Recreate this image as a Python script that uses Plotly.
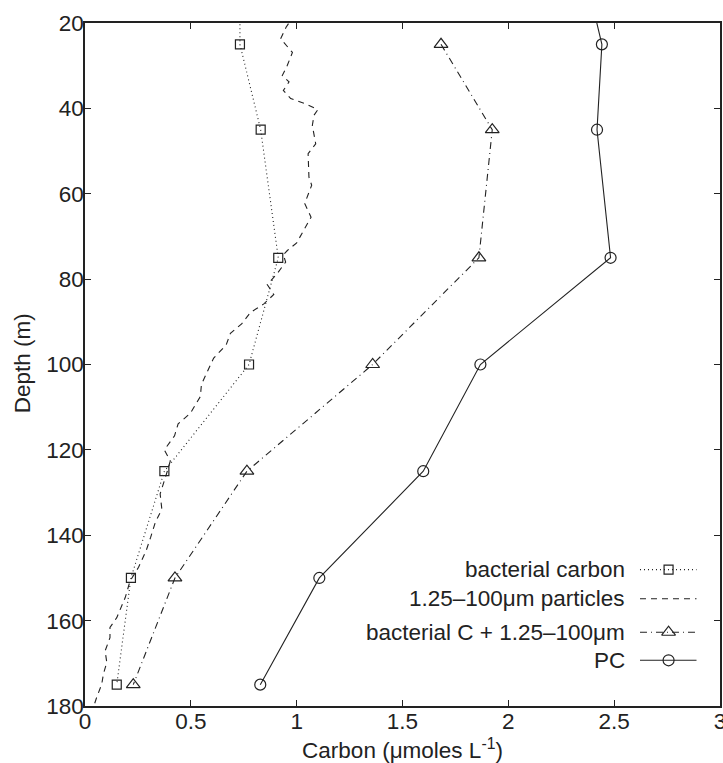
import plotly.graph_objects as go

# ---------------- data ----------------
depth_bact = [10, 25, 45, 75, 100, 125, 150, 175]
bact_carbon = [0.732, 0.732, 0.830, 0.913, 0.775, 0.375, 0.217, 0.150]

depth_sum = [25, 45, 75, 100, 125, 150, 175]
bact_plus_part = [1.682, 1.924, 1.861, 1.359, 0.765, 0.425, 0.228]

depth_pc = [10, 25, 45, 75, 100, 125, 150, 175]
pc = [2.37, 2.442, 2.419, 2.483, 1.868, 1.598, 1.107, 0.828]

depth_part = [18, 21, 23.7, 26.9, 29.9, 32.3, 33.8, 35.8, 37.7, 39.1, 40.3, 41.6, 44,
              48.3, 50.6, 56.1, 58, 62.3, 65.5, 68.8, 71.5, 73.3, 74.3, 76, 78.7,
              81.3, 83.6, 85.8, 87.8, 90.5, 92.7, 95.4, 98.5, 102.2, 104.7, 107.5,
              111.4, 113.9, 116.7, 120, 122.6, 125.3, 127.6, 130.3, 133.9, 137,
              140.5, 143.6, 147.5, 150.7, 154.6, 159.3, 161.6, 164, 167.1, 169.8,
              172.5, 174.9, 178, 181]
particles = [0.99, 0.95, 0.924, 0.98, 0.956, 0.932, 0.964, 0.937, 0.972, 1.05, 1.10,
             1.082, 1.074, 1.09, 1.054, 1.058, 1.071, 1.038, 1.068, 1.032, 1.0, 0.956,
             0.937, 0.948, 0.908, 0.861, 0.892, 0.845, 0.782, 0.74, 0.687, 0.667,
             0.608, 0.573, 0.55, 0.545, 0.498, 0.44, 0.423, 0.375, 0.403, 0.387,
             0.371, 0.355, 0.363, 0.332, 0.31, 0.289, 0.253, 0.213, 0.19, 0.15,
             0.118, 0.118, 0.095, 0.103, 0.087, 0.079, 0.055, 0.035]

legend_labels = ["bacterial carbon", "1.25\u2013100\u03bcm particles",
                 "bacterial C + 1.25\u2013100\u03bcm", "PC"]

x_ticks = [0, 0.5, 1, 1.5, 2, 2.5, 3]
x_tick_text = ["0", "0.5", "1", "1.5", "2", "2.5", "3"]
y_ticks = [20, 40, 60, 80, 100, 120, 140, 160, 180]

# ---------------- styles ----------------
FONT = "Liberation Sans, Arial, Helvetica, sans-serif"
BLACK = "#222222"
FS = 22.5
styles = [
    dict(dash="1px,3px", symbol="square-open", size=9),
    dict(dash="6px,5px", symbol=None, size=0),
    dict(dash="7px,4px,1px,4px", symbol="triangle-up-open", size=12),
    dict(dash="solid", symbol="circle-open", size=11),
]

series = [
    (bact_carbon, depth_bact),
    (particles, depth_part),
    (bact_plus_part, depth_sum),
    (pc, depth_pc),
]

fig = go.Figure()
for (xs, ys), st in zip(series, styles):
    mode = "lines+markers" if st["symbol"] else "lines"
    kw = dict(x=xs, y=ys, mode=mode, showlegend=False,
              line=dict(color=BLACK, width=1.1, dash=st["dash"]))
    if st["symbol"]:
        kw["marker"] = dict(symbol=st["symbol"], size=st["size"], color=BLACK,
                            line=dict(color=BLACK, width=1.2))
    fig.add_trace(go.Scatter(**kw))

# ---------------- manual legend (gnuplot style: text left, sample right) ----------------
row_y = [0.1997, 0.157, 0.108, 0.0669]
sample_x0, sample_xm, sample_x1 = 0.874, 0.919, 0.963
for lab, yy, st in zip(legend_labels, row_y, styles):
    fig.add_annotation(text=lab, xref="paper", yref="paper", x=0.853, y=yy,
                       xanchor="right", yanchor="middle", showarrow=False,
                       font=dict(family=FONT, size=FS, color=BLACK))
    fig.add_trace(go.Scatter(x=[sample_x0, sample_x1], y=[yy, yy], mode="lines",
                             xaxis="x2", yaxis="y2", showlegend=False, hoverinfo="skip",
                             line=dict(color=BLACK, width=1.1, dash=st["dash"])))
    if st["symbol"]:
        fig.add_trace(go.Scatter(x=[sample_xm], y=[yy], mode="markers",
                                 xaxis="x2", yaxis="y2", showlegend=False, hoverinfo="skip",
                                 marker=dict(symbol=st["symbol"], size=st["size"],
                                             color=BLACK,
                                             line=dict(color=BLACK, width=1.2))))

# y axis title placed left of the tick labels
fig.add_annotation(text="Depth (m)", xref="paper", yref="paper", x=-0.099, y=0.502,
                   xanchor="center", yanchor="middle", textangle=-90, showarrow=False,
                   font=dict(family=FONT, size=FS, color=BLACK))

axis_common = dict(showgrid=False, zeroline=False, showline=True, linecolor=BLACK,
                   linewidth=1.5, mirror="ticks", ticks="inside", ticklen=6,
                   tickwidth=1, tickcolor=BLACK, ticklabeloverflow="allow",
                   tickfont=dict(family=FONT, size=FS, color=BLACK))

fig.update_layout(
    width=723, height=763,
    margin=dict(l=85, r=3, t=23, b=57, autoexpand=False),
    paper_bgcolor="white", plot_bgcolor="white",
    font=dict(family=FONT, size=FS, color=BLACK),
    xaxis=dict(range=[0, 3], tickvals=x_ticks, ticktext=x_tick_text,
               title=dict(text="Carbon (\u03bcmoles L<sup>-1</sup>)", standoff=16,
                          font=dict(family=FONT, size=FS, color=BLACK)),
               automargin=False, ticklabelstandoff=-6, **axis_common),
    yaxis=dict(range=[180, 20], tickvals=y_ticks,
               automargin=False, ticklabelstandoff=-5, **axis_common),
    xaxis2=dict(range=[0, 1], overlaying="x", visible=False, fixedrange=True),
    yaxis2=dict(range=[0, 1], overlaying="y", visible=False, fixedrange=True),
)

fig.write_html("out.html", config={"displayModeBar": False},
               post_script="document.body.style.margin='0';document.body.style.overflow='hidden';")
